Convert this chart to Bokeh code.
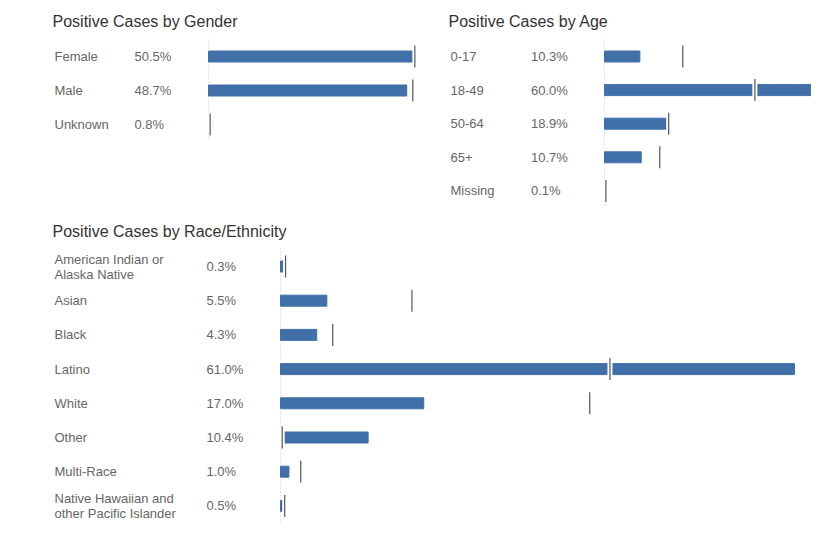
from bokeh.plotting import figure
from bokeh.layouts import column, row
from bokeh.models import Range1d
from bokeh.core.properties import value
from bokeh.embed import file_html
from bokeh.resources import INLINE

# ---- data ----
gender_labels = ["Female", "Male", "Unknown"]
gender_pct = [50.5, 48.7, 0.8]
gender_ref = [50.7, 50.2, 0.4]

age_labels = ["0-17", "18-49", "50-64", "65+", "Missing"]
age_pct = [10.3, 60.0, 18.9, 10.7, 0.1]
age_ref = [22.8, 43.8, 18.7, 16.1, 0.4]

race_labels = ["American Indian or\nAlaska Native", "Asian", "Black", "Latino",
               "White", "Other", "Multi-Race",
               "Native Hawaiian and\nother Pacific Islander"]
race_pct = [0.3, 5.5, 4.3, 61.0, 17.0, 10.4, 1.0, 0.5]
race_ref = [0.6, 15.6, 6.2, 39.1, 36.7, 0.2, 2.4, 0.5]

FONT = value("Liberation Sans")
BAR = "#4170a8"


def panel(title, labels, pct, ref, W, H, base, scale, row0, sp,
          title_xy, label_x, pct_x, dot_top, dot_bot):
    p = figure(width=W, height=H, output_backend="svg", toolbar_location=None,
               x_axis_location=None, y_axis_location=None, min_border=0,
               x_range=Range1d(-base / scale, (W - base) / scale),
               y_range=Range1d((H - row0) / sp, -row0 / sp))
    p.grid.visible = False
    p.outline_line_color = None
    p.background_fill_color = "white"
    p.border_fill_color = "white"
    idx = list(range(len(labels)))
    py = lambda px: (px - row0) / sp

    # dotted baseline
    p.segment(x0=[0], x1=[0], y0=[py(dot_top)], y1=[py(dot_bot)],
              line_color="#c8c8c8", line_width=1, line_dash="1 2")
    # bars
    p.hbar(y=idx, left=0, right=pct, height=11 / sp, color=BAR)
    # reference marks with white halo
    half = 11 / sp
    p.segment(x0=ref, x1=ref, y0=[i - half for i in idx], y1=[i + half for i in idx],
              line_color="white", line_width=5)
    p.segment(x0=ref, x1=ref, y0=[i - half for i in idx], y1=[i + half for i in idx],
              line_color="#555555", line_width=1.2)
    # labels and percentages
    p.text(x=0, y=idx, text=labels, x_offset=label_x - base, text_font=FONT,
           text_font_size="13px", text_color="#666666", text_baseline="middle",
           text_line_height=1.0)
    p.text(x=0, y=idx, text=[f"{v:.1f}%" for v in pct], x_offset=pct_x - base,
           text_font=FONT, text_font_size="13px", text_color="#666666",
           text_baseline="middle")
    # title
    p.text(x=[0], y=[py(title_xy[1])], text=[title], x_offset=title_xy[0] - base,
           text_font=FONT, text_font_size="16px", text_color="#333333",
           text_baseline="middle")
    return p


p1 = panel("Positive Cases by Gender", gender_labels, gender_pct, gender_ref,
           440, 216, 208, 4.07, 56, 34, (52, 21), 54, 134, 39, 140)
p2 = panel("Positive Cases by Age", age_labels, age_pct, age_ref,
           391, 216, 164, 3.433, 56, 33.6, (8, 21), 10, 90.5, 39, 205)
p3 = panel("Positive Cases by Race/Ethnicity", race_labels, race_pct, race_ref,
           831, 310, 280, 8.426, 50, 34.2, (52, 15), 54, 206, 32, 306)

layout = column(row(p1, p2), p3)
open("out.html", "w").write(file_html(layout, INLINE))
